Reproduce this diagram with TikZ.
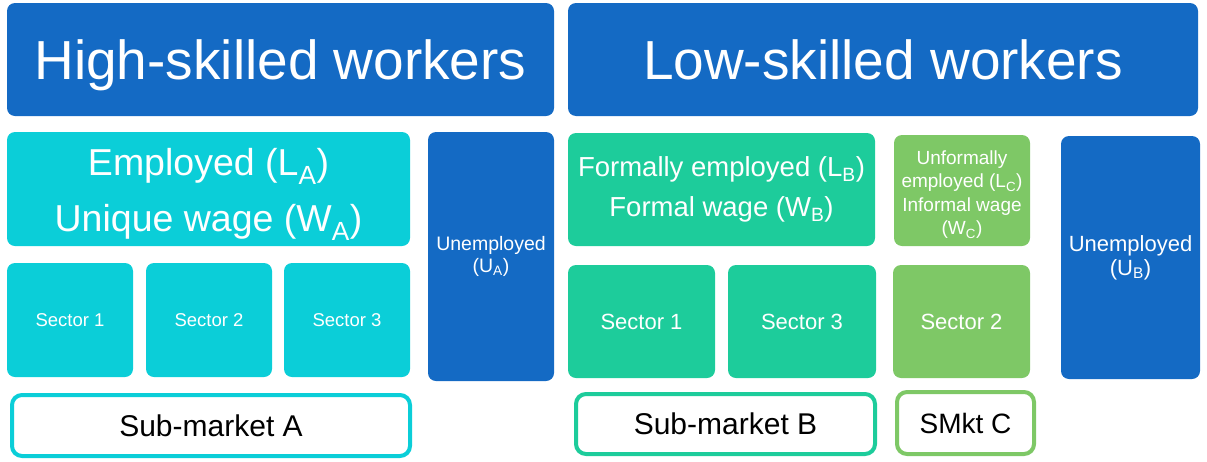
\documentclass[tikz,border=0pt]{standalone}
\usepackage{fontspec}
\setmainfont{Liberation Sans}
\usepackage{tikz}

\definecolor{hblue}{RGB}{20,106,196}
\definecolor{acyan}{RGB}{11,206,216}
\definecolor{bteal}{RGB}{29,204,155}
\definecolor{cgreen}{RGB}{126,200,102}

\tikzset{
  blk/.style={rounded corners=8pt, inner sep=0pt, align=center, text=white},
  hdr/.style={blk, fill=hblue, text depth=0pt, font=\fontsize{55}{60}\selectfont},
  mkt/.style={draw, line width=4pt, fill=white, rounded corners=10pt, inner sep=0pt, align=center, text=black},
}

\begin{document}
\begin{tikzpicture}[x=1pt,y=1pt,yscale=-1]
\path (0,0) rectangle (1207,461);

% Header blocks
\node[hdr, minimum width=547, minimum height=113] (high) at (280.5,59.5) {High-skilled workers};
\node[hdr, minimum width=630, minimum height=113] (low) at (883,59.5) {Low-skilled workers};

% Sub-market A
\node[blk, fill=acyan, minimum width=403, minimum height=114, font=\fontsize{37.5}{56}\selectfont] (empA) at (208.5,189) {\rule{0pt}{38pt}Employed (L\textsubscript{A})\\Unique wage (W\textsubscript{A})};
\node[blk, fill=hblue, minimum width=126, minimum height=249, font=\fontsize{19.5}{22}\selectfont] (unA) at (491,256.5) {Unemployed\\(U\textsubscript{A})};
\node[blk, fill=acyan, minimum width=126, minimum height=114, font=\fontsize{18.5}{22}\selectfont] (secA1) at (70,320) {Sector 1};
\node[blk, fill=acyan, minimum width=126, minimum height=114, font=\fontsize{18.5}{22}\selectfont] (secA2) at (209,320) {Sector 2};
\node[blk, fill=acyan, minimum width=126, minimum height=114, font=\fontsize{18.5}{22}\selectfont] (secA3) at (347,320) {Sector 3};
\node[mkt, draw=acyan, minimum width=398, minimum height=61, font=\fontsize{30}{32}\selectfont] (subA) at (211,425.5) {Sub-market A};

% Sub-markets B and C
\node[blk, fill=bteal, minimum width=307, minimum height=113, font=\fontsize{27.5}{40}\selectfont] (empB) at (721.5,189.5) {Formally employed (L\textsubscript{B})\\Formal wage (W\textsubscript{B})};
\node[blk, fill=cgreen, minimum width=136, minimum height=111, font=\fontsize{19}{23.5}\selectfont] (empC) at (962,190.5) {\rule{0pt}{22pt}Unformally\\employed (L\textsubscript{C})\\Informal wage\\(W\textsubscript{C})};
\node[blk, fill=hblue, minimum width=139, minimum height=243, font=\fontsize{22}{24}\selectfont] (unB) at (1130.5,257.5) {Unemployed\\(U\textsubscript{B})};
\node[blk, fill=bteal, minimum width=147, minimum height=113, font=\fontsize{22}{24}\selectfont] (secB1) at (641.5,321.5) {Sector 1};
\node[blk, fill=bteal, minimum width=148, minimum height=113, font=\fontsize{22}{24}\selectfont] (secB3) at (802,321.5) {Sector 3};
\node[blk, fill=cgreen, minimum width=137, minimum height=113, font=\fontsize{22}{24}\selectfont] (secC2) at (961.5,321.5) {Sector 2};
\node[mkt, draw=bteal, minimum width=299, minimum height=60, font=\fontsize{30}{32}\selectfont] (subB) at (725.5,424) {Sub-market B};
\node[mkt, draw=cgreen, minimum width=137, minimum height=62, font=\fontsize{28}{30}\selectfont] (subC) at (965.5,423) {SMkt C};

\end{tikzpicture}
\end{document}
